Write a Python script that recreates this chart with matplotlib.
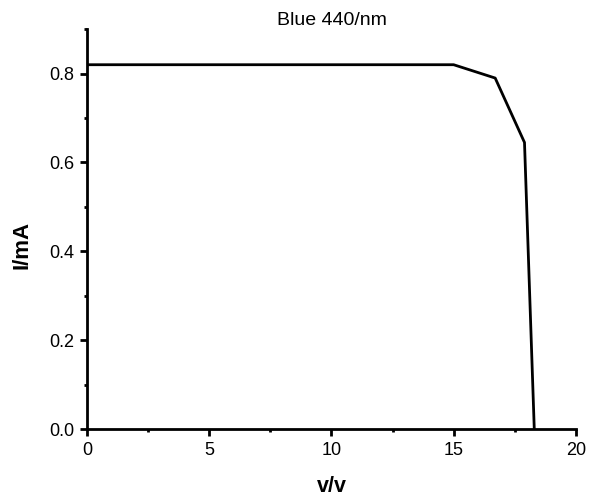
import matplotlib
matplotlib.use('Agg')
import matplotlib.pyplot as plt
from matplotlib.ticker import MultipleLocator, FormatStrFormatter

plt.rcParams['font.family'] = ['Liberation Sans', 'DejaVu Sans']

# I-V curve
voltage = [0, 15.0, 16.7, 17.9, 18.3]
current = [0.82, 0.82, 0.79, 0.645, 0.0]

fig = plt.figure(figsize=(5.93, 5.03), dpi=100)
ax = fig.add_axes([0.147, 0.147, 0.824, 0.795])

ax.plot(voltage, current, color='black', linewidth=2.0)

ax.set_xlim(0, 20)
ax.set_ylim(0, 0.9)
ax.xaxis.set_major_locator(MultipleLocator(5))
ax.xaxis.set_minor_locator(MultipleLocator(2.5))
ax.yaxis.set_major_locator(MultipleLocator(0.2))
ax.yaxis.set_minor_locator(MultipleLocator(0.1))
ax.yaxis.set_major_formatter(FormatStrFormatter('%.1f'))

for s in ['top', 'right']:
    ax.spines[s].set_visible(False)
for s in ['left', 'bottom']:
    ax.spines[s].set_linewidth(2.0)

ax.tick_params(which='major', direction='out', length=5, width=2.0,
               labelsize=13, pad=4)
ax.tick_params(which='minor', direction='out', length=2.5, width=2.0)

ax.set_xlabel('v/v', fontsize=15.5, fontweight='bold')
ax.set_ylabel('I/mA', fontsize=16, fontweight='bold')
ax.xaxis.set_label_coords(0.5, -0.117)
ax.yaxis.set_label_coords(-0.112, 0.46)
ax.set_title('Blue 440/nm', fontsize=14, pad=2)

fig.savefig('out.png', dpi=100)
